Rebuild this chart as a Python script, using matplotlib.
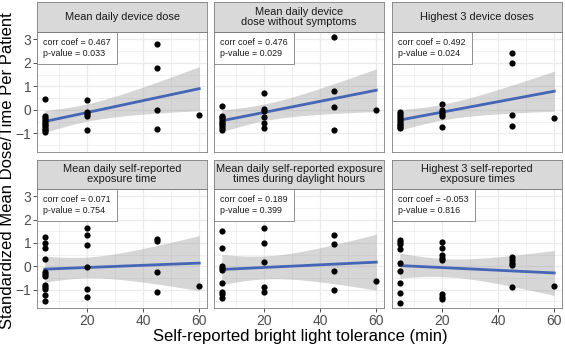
import matplotlib
matplotlib.use("Agg")
import matplotlib.pyplot as plt
import numpy as np

plt.rcParams["font.family"] = ["Liberation Sans", "DejaVu Sans"]

# facet titles and annotation text
titles = [
    "Mean daily device dose",
    "Mean daily device\ndose without symptoms",
    "Highest 3 device doses",
    "Mean daily self-reported\nexposure time",
    "Mean daily self-reported exposure\ntimes during daylight hours",
    "Highest 3 self-reported\nexposure times",
]
corr_text = [
    "corr coef = 0.467\np-value = 0.033",
    "corr coef = 0.476\np-value = 0.029",
    "corr coef = 0.492\np-value = 0.024",
    "corr coef = 0.071\np-value = 0.754",
    "corr coef = 0.189\np-value = 0.399",
    "corr coef = -0.053\np-value = 0.816",
]

# values per panel, grouped by tolerance (5, 20, 45, 60 min)
p1_y5 = [0.45, -0.28, -0.35, -0.42, -0.5, -0.58, -0.65, -0.72, -0.8, -0.86, -0.92]
p1_y20 = [0.44, -0.08, -0.18, -0.27, -0.85]
p1_y45 = [2.8, 1.77, 0.0, -0.83]
p1_y60 = [-0.2]

p2_y5 = [0.17, -0.25, -0.32, -0.4, -0.47, -0.55, -0.62, -0.7, -0.78, -0.85]
p2_y20 = [0.7, 0.04, -0.04, -0.31, -0.54, -0.79]
p2_y45 = [3.08, 0.82, 0.13, -0.85]
p2_y60 = [0.0]

p3_y5 = [-0.1, -0.18, -0.26, -0.34, -0.42, -0.5, -0.58, -0.66, -0.72, -0.75]
p3_y20 = [0.25, 0.0, -0.07, -0.17, -0.25, -0.73]
p3_y45 = [2.43, 1.99, -0.2, -0.68]
p3_y60 = [-0.34]

p4_y5 = [1.27, 1.01, 0.77, 0.3, -0.23, -0.33, -0.41, -0.81, -0.9, -0.99, -1.24, -1.5]
p4_y20 = [1.64, 1.36, 0.93, -0.03, -0.99, -1.33]
p4_y45 = [1.16, 1.07, -0.26, -1.09]
p4_y60 = [-0.84]

p5_y5 = [1.53, 0.79, 0.01, -0.06, -0.16, -0.7, -1.09, -1.2, -1.34]
p5_y20 = [1.64, 0.99, 0.19, -0.9, -1.12]
p5_y45 = [1.34, 0.96, -0.19, -1.03]
p5_y60 = [-0.64]

p6_y5 = [1.13, 1.04, 0.96, 0.73, 0.16, -0.21, -0.7, -1.16, -1.56]
p6_y20 = [1.04, 0.79, 0.47, 0.36, 0.27, -1.21, -1.3, -1.41]
p6_y45 = [0.39, 0.27, 0.16, 0.04, -0.91]
p6_y60 = [-0.84]

tolerance = [5, 20, 45, 60]
panels = [
    [p1_y5, p1_y20, p1_y45, p1_y60],
    [p2_y5, p2_y20, p2_y45, p2_y60],
    [p3_y5, p3_y20, p3_y45, p3_y60],
    [p4_y5, p4_y20, p4_y45, p4_y60],
    [p5_y5, p5_y20, p5_y45, p5_y60],
    [p6_y5, p6_y20, p6_y45, p6_y60],
]


def t975(df):
    # Cornish-Fisher approximation of the t quantile
    z = 1.959964
    return (z + (z**3 + z) / (4 * df)
            + (5 * z**5 + 16 * z**3 + 3 * z) / (96 * df**2)
            + (3 * z**7 + 19 * z**5 + 17 * z**3 - 15 * z) / (384 * df**3))


def lm_band(x, y, xs):
    n = len(x)
    b1, b0 = np.polyfit(x, y, 1)
    fit = b0 + b1 * xs
    resid = y - (b0 + b1 * x)
    s = np.sqrt(np.sum(resid**2) / (n - 2))
    se = s * np.sqrt(1 / n + (xs - x.mean())**2 / np.sum((x - x.mean())**2))
    t = t975(n - 2)
    return fit, fit - t * se, fit + t * se


W, H = 565, 345
fig = plt.figure(figsize=(W / 100, H / 100), dpi=100)

col_x = [37, 214, 392]
col_w = 170
row_y = [(2, 32, 152), (160, 189, 308)]  # strip top, panel top, panel bottom
xlim = (2.25, 62.75)
ylim = (-1.79, 3.31)
border = "#7f7f7f"

for i in range(6):
    r, c = divmod(i, 3)
    st, pt, pb = row_y[r]
    x0 = col_x[c]
    ax = fig.add_axes([x0 / W, 1 - pb / H, col_w / W, (pb - pt) / H])
    sax = fig.add_axes([x0 / W, 1 - pt / H, col_w / W, (pt - st) / H])

    # strip
    sax.set_facecolor("#d9d9d9")
    sax.set_xticks([])
    sax.set_yticks([])
    for sp in sax.spines.values():
        sp.set_color(border)
        sp.set_linewidth(0.6)
    sax.text(0.5, 0.5, titles[i], ha="center", va="center", fontsize=7.9,
             color="#1a1a1a", linespacing=1.0, transform=sax.transAxes)

    # data
    xs_all = []
    ys_all = []
    for tol, vals in zip(tolerance, panels[i]):
        xs_all += [tol] * len(vals)
        ys_all += vals
    xs_all = np.array(xs_all, dtype=float)
    ys_all = np.array(ys_all, dtype=float)

    grid = np.linspace(xs_all.min(), xs_all.max(), 80)
    fit, lo, hi = lm_band(xs_all, ys_all, grid)
    ax.fill_between(grid, lo, hi, color="#999999", alpha=0.4, lw=0, zorder=2)
    ax.plot(grid, fit, color="#4565b5", lw=2.0, zorder=3)
    ax.scatter(xs_all, ys_all, s=20, color="black", lw=0, zorder=4)

    ax.set_xlim(xlim)
    ax.set_ylim(ylim)
    ax.set_xticks([20, 40, 60])
    ax.set_xticks([10, 30, 50], minor=True)
    ax.set_yticks([-1, 0, 1, 2, 3])
    ax.set_yticks([-1.5, -0.5, 0.5, 1.5, 2.5], minor=True)
    ax.grid(which="major", color="#ebebeb", lw=0.9, zorder=0)
    ax.grid(which="minor", color="#ebebeb", lw=0.5, zorder=0)
    ax.set_axisbelow(True)
    for sp in ax.spines.values():
        sp.set_color(border)
        sp.set_linewidth(0.6)
    ax.tick_params(which="minor", length=0)
    ax.tick_params(which="major", length=3.0, width=0.6, color="#333333",
                   labelsize=10, labelcolor="#4d4d4d", pad=1.2)
    if c != 0:
        ax.tick_params(axis="y", which="major", length=0, labelleft=False)
    if r == 0:
        ax.tick_params(axis="x", which="major", length=0, labelbottom=False)

    ax.annotate(corr_text[i], xy=(0, 1), xycoords="axes fraction",
                xytext=(4.3, -4.3), textcoords="offset points",
                ha="left", va="top", fontsize=6.4, color="#1a1a1a",
                linespacing=1.25, zorder=6,
                bbox=dict(boxstyle="square,pad=0.68", fc="white",
                          ec=border, lw=0.6))

fig.text(8 / W, 1 - 171 / H, "Standardized Mean Dose/Time Per Patient",
         rotation=90, ha="center", va="center", fontsize=12, color="black")
fig.text(300 / W, 1 - 336 / H, "Self-reported bright light tolerance (min)",
         ha="center", va="center", fontsize=12, color="black")

fig.savefig("out.png", dpi=100)
